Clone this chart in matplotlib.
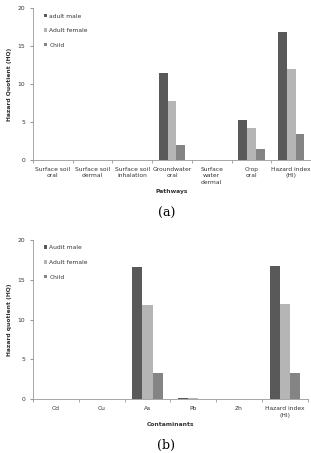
import numpy as np
import matplotlib
matplotlib.use('Agg')
from matplotlib import pyplot as plt

# panel (a) data
pathways = ['Surface soil\noral', 'Surface soil\ndermal', 'Surface soil\ninhalation',
            'Groundwater\noral', 'Surface\nwater\ndermal', 'Crop\noral', 'Hazard index\n(HI)']
a_male = [0.05, 0.0, 0.0, 11.5, 0.0, 5.3, 16.8]
a_female = [0.02, 0.0, 0.0, 7.7, 0.0, 4.2, 12.0]
a_child = [0.01, 0.0, 0.0, 1.9, 0.0, 1.5, 3.4]
a_labels = ['adult male', 'Adult female', 'Child']

# panel (b) data
contaminants = ['Cd', 'Cu', 'As', 'Pb', 'Zn', 'Hazard index\n(HI)']
b_male = [0.0, 0.02, 16.6, 0.2, 0.0, 16.8]
b_female = [0.0, 0.01, 11.8, 0.1, 0.0, 11.9]
b_child = [0.0, 0.01, 3.3, 0.02, 0.0, 3.3]
b_labels = ['Audit male', 'Adult female', 'Child']

colors = ['#595959', '#b5b5b5', '#848484']
fs = 4.3

fig = plt.figure(figsize=(3.11, 4.53), dpi=100)


def panel(ax, cats, series, labels, xlabel, ylabel):
    x = np.arange(len(cats))
    w = 0.22
    for i, (vals, lab) in enumerate(zip(series, labels)):
        ax.bar(x + (i - 1) * w, vals, w, color=colors[i], label=lab)
    ax.set_xlim(-0.5, len(cats) - 0.5)
    ax.set_ylim(0, 20)
    ax.set_yticks([0, 5, 10, 15, 20])
    ax.set_xticks(x)
    ax.set_xticklabels(cats, fontsize=fs, color='#333333', linespacing=1.4)
    ax.set_xticks(np.arange(len(cats) + 1) - 0.5, minor=True)
    ax.tick_params(axis='x', which='major', length=0, pad=5)
    ax.tick_params(axis='x', which='minor', length=2, color='#999999')
    ax.tick_params(axis='y', labelsize=fs, length=2, color='#999999', labelcolor='#333333')
    for s in ['top', 'right']:
        ax.spines[s].set_visible(False)
    for s in ['left', 'bottom']:
        ax.spines[s].set_color('#999999')
        ax.spines[s].set_linewidth(0.6)
    ax.set_xlabel(xlabel, fontsize=fs, fontweight='bold', color='#333333', labelpad=3)
    ax.set_ylabel(ylabel, fontsize=fs, fontweight='bold', color='#333333', labelpad=4)
    leg = ax.legend(loc='upper left', frameon=False, fontsize=fs, handlelength=0.6,
                    handleheight=0.6, handletextpad=0.3, labelspacing=1.6,
                    bbox_to_anchor=(0.02, 1.0))
    for t in leg.get_texts():
        t.set_color('#333333')


ax1 = fig.add_axes([0.106, 0.647, 0.894, 0.335])
panel(ax1, pathways, [a_male, a_female, a_child], a_labels,
      'Pathways', 'Hazard Quotient (HQ)')
fig.text(0.535, 1 - 213 / 453, '(a)', ha='center', va='center', fontsize=9, family='serif')

ax2 = fig.add_axes([0.106, 0.119, 0.884, 0.351])
panel(ax2, contaminants, [b_male, b_female, b_child], b_labels,
      'Contaminants', 'Hazard quotient (HQ)')
fig.text(0.535, 1 - 445 / 453, '(b)', ha='center', va='center', fontsize=9, family='serif')

fig.savefig('out.png', dpi=100)
